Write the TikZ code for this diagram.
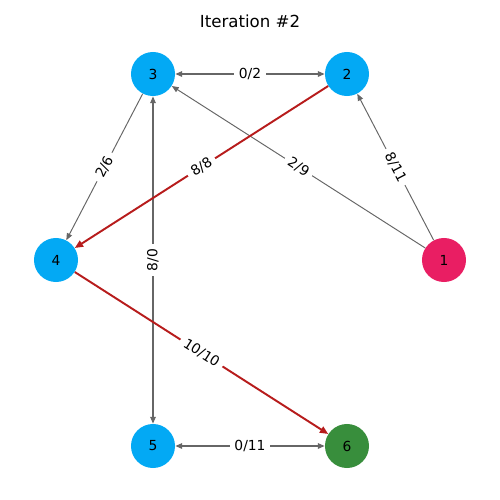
\documentclass[tikz,border=0pt]{standalone}
\usepackage{fontspec}
\setmainfont{DejaVu Sans}
\usetikzlibrary{arrows.meta}
\definecolor{nblue}{HTML}{03A9F4}
\definecolor{npink}{HTML}{E91E63}
\definecolor{ngreen}{HTML}{388E3C}
\definecolor{ered}{HTML}{B71C1C}
\definecolor{egray}{HTML}{666666}
\begin{document}
\begin{tikzpicture}[x=0.01in,y=-0.01in,
  vert/.style={circle,inner sep=0pt,minimum size=0.44in,font=\fontsize{10}{12}\selectfont},
  tip/.style={-{Triangle[length=5pt,width=4pt]}},
  gedge/.style={draw=egray,line width=0.7pt},
  dedge/.style={draw=egray,line width=1.1pt,{Triangle[length=5pt,width=4pt]}-{Triangle[length=5pt,width=4pt]}},
  redge/.style={draw=ered,line width=1.4pt,-{Triangle[length=6pt,width=5pt]}},
  lab/.style={fill=white,inner xsep=3.5pt,inner ysep=1.5pt,font=\fontsize{10}{12}\selectfont,midway,sloped}
]
\useasboundingbox (0,0) rectangle (500,500);
\node[font=\fontsize{12}{14}\selectfont] (title) at (250,21) {Iteration \#2};
\node[vert,fill=nblue] (n3) at (153,74) {3};
\node[vert,fill=nblue] (n2) at (347,74) {2};
\node[vert,fill=nblue] (n4) at (56,260) {4};
\node[vert,fill=npink] (n1) at (444,260) {1};
\node[vert,fill=nblue] (n5) at (153,446) {5};
\node[vert,fill=ngreen] (n6) at (347,446) {6};
\draw[dedge] (n3) -- node[lab] {0/2} (n2);
\draw[dedge] (n5) -- node[lab] {8/0} (n3);
\draw[dedge] (n5) -- node[lab] {0/11} (n6);
\draw[gedge,tip] (n3) -- node[lab] {2/6} (n4);
\draw[gedge,tip] (n1) -- node[lab] {2/9} (n3);
\draw[gedge,tip] (n1) -- node[lab] {8/11} (n2);
\draw[redge] (n2) -- node[lab] {8/8} (n4);
\draw[redge] (n4) -- node[lab] {10/10} (n6);
\end{tikzpicture}
\end{document}
